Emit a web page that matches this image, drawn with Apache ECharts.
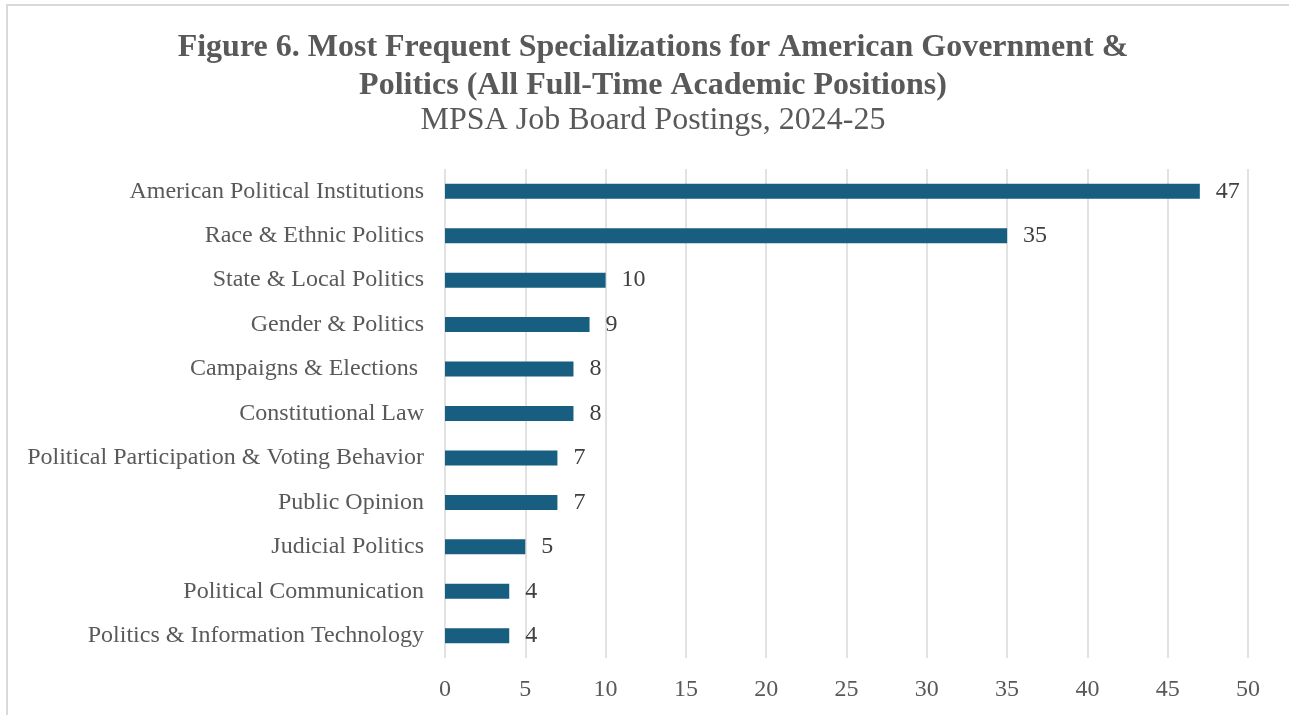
<!DOCTYPE html>
<html>
<head>
<meta charset="utf-8">
<script src="https://cdn.jsdelivr.net/npm/echarts@6/dist/echarts.min.js"></script>
<style>
html,body{margin:0;padding:0;background:#fff;}
#chart{width:1289px;height:715px;}
</style>
</head>
<body>
<div id="chart"></div>
<script>
const categories = [
  "American Political Institutions",
  "Race & Ethnic Politics",
  "State & Local Politics",
  "Gender & Politics",
  "Campaigns & Elections ",
  "Constitutional Law",
  "Political Participation & Voting Behavior",
  "Public Opinion",
  "Judicial Politics",
  "Political Communication",
  "Politics & Information Technology"
];
const values = [47, 35, 10, 9, 8, 8, 7, 7, 5, 4, 4];
const titleLines = [
  "Figure 6. Most Frequent Specializations for American Government &",
  "Politics (All Full-Time Academic Positions)"
];
const subtitleText = "MPSA Job Board Postings, 2024-25";

const FONT = "'Liberation Serif', 'Times New Roman', serif";
const TXT = "#595959";
const chart = echarts.init(document.getElementById('chart'), null, {renderer: 'canvas'});
chart.setOption({
  backgroundColor: '#ffffff',
  animation: false,
  title: [
    {
      text: titleLines.join('\n'),
      left: 648, top: 24, textAlign: 'center',
      textStyle: {fontFamily: FONT, fontSize: 32, fontWeight: 'bold', color: TXT, lineHeight: 38}
    },
    {
      text: subtitleText,
      left: 648, top: 98, textAlign: 'center',
      textStyle: {fontFamily: FONT, fontSize: 32, fontWeight: 'normal', color: TXT, lineHeight: 36}
    }
  ],
  graphic: [
    {type: 'line', shape: {x1: 6, y1: 5, x2: 1289, y2: 5}, style: {stroke: '#d9d9d9', lineWidth: 2}, silent: true},
    {type: 'line', shape: {x1: 7, y1: 5, x2: 7, y2: 715}, style: {stroke: '#d9d9d9', lineWidth: 2}, silent: true}
  ],
  grid: {left: 445, right: 41, top: 169, bottom: 57, containLabel: false},
  xAxis: {
    type: 'value', min: 0, max: 50, interval: 5,
    axisLine: {show: false}, axisTick: {show: false},
    splitLine: {show: true, lineStyle: {color: '#d9d9d9', width: 1.5}},
    axisLabel: {fontFamily: FONT, fontSize: 24, color: TXT, margin: 20}
  },
  yAxis: {
    type: 'category', data: categories, inverse: true,
    axisLine: {show: false}, axisTick: {show: false},
    axisLabel: {fontFamily: FONT, fontSize: 24, color: TXT, margin: 21}
  },
  series: [{
    type: 'bar', data: values, barWidth: 15,
    itemStyle: {color: '#175e80'},
    label: {show: true, position: 'right', distance: 16, fontFamily: FONT, fontSize: 24, color: '#404040'}
  }]
});
</script>
</body>
</html>
